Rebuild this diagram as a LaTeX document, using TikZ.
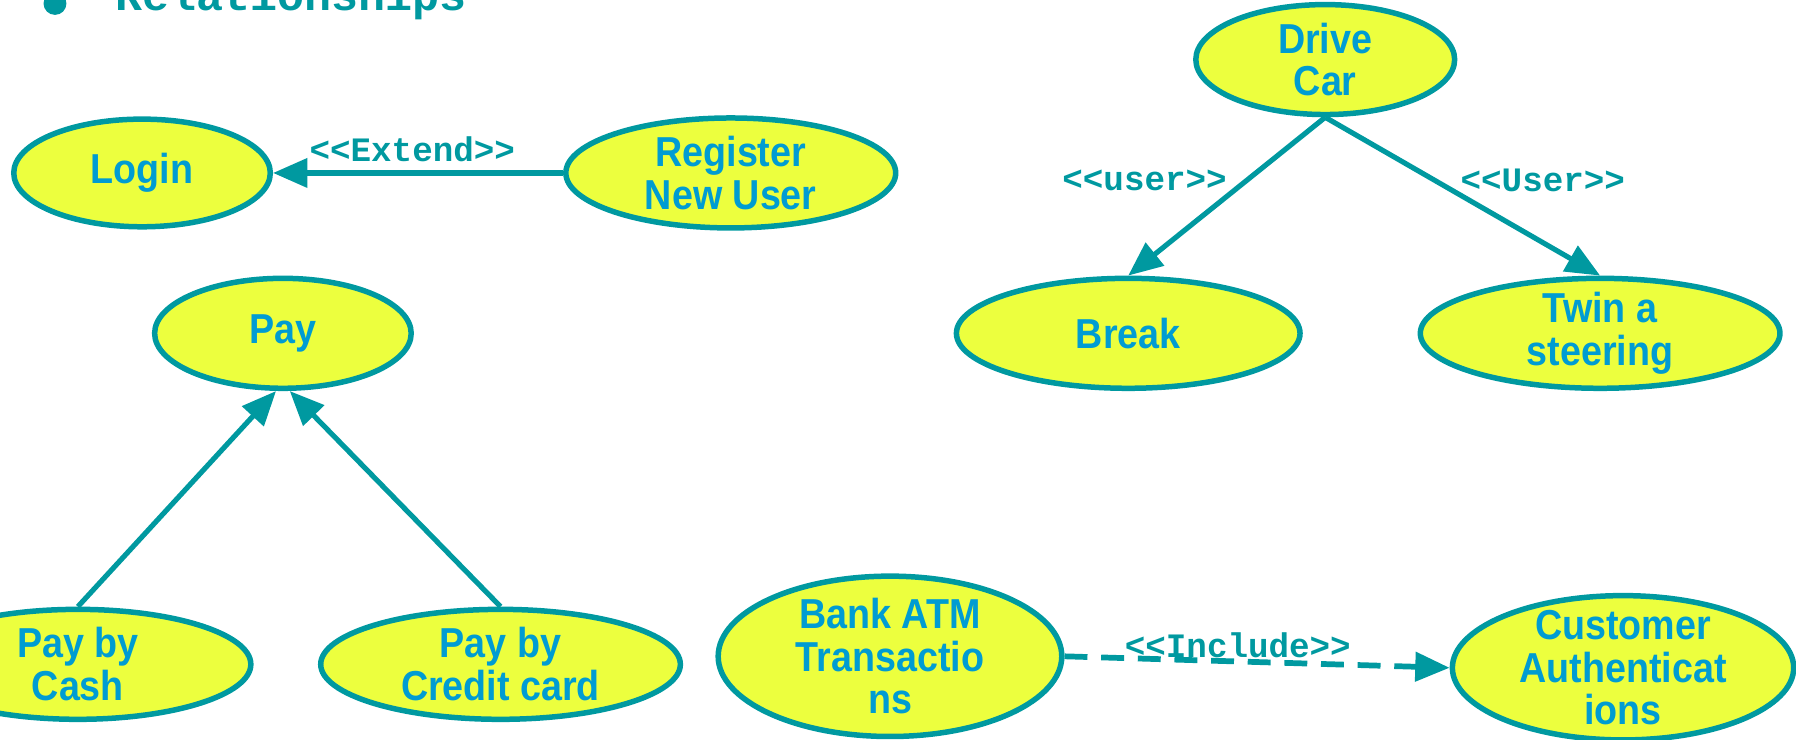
\documentclass[tikz,border=0pt]{standalone}
\usepackage{fontspec}
\setmainfont{Liberation Sans}
\setmonofont{Liberation Mono}
\newfontfamily\ucfont{Liberation Sans}[FakeStretch=0.9]
\usetikzlibrary{shapes.geometric,arrows.meta}
\definecolor{ucline}{RGB}{0,153,160}
\definecolor{ucfill}{RGB}{236,255,62}
\definecolor{uctext}{RGB}{0,156,210}
\begin{document}
\begin{tikzpicture}[x=.1mm,y=-.1mm,
	uc/.style={ellipse,draw=ucline,fill=ucfill,line width=.48mm,inner sep=0pt},
	uctxt/.style={align=center,inner sep=0pt,text=uctext,
		font=\fontsize{10.4}{10.6}\ucfont\bfseries},
	rel/.style={draw=ucline,line width=.45mm,-{Triangle[length=3mm,width=2.5mm]}},
	lbl/.style={text=ucline,inner sep=0pt,
		font=\fontsize{8.5}{9}\selectfont\ttfamily\bfseries}]
	% \uc{ten}{x,y}{rx}{ry}{chu}
	\def\uc#1#2#3#4#5{
		\node[uc,minimum width=#3*.2mm,minimum height=#4*.2mm] (#1) at (#2) {};
		\node[uctxt] (#1-t) at (#1) {#5};
	}
	\useasboundingbox (0,0) rectangle (1568,646);
	\clip (0,0) rectangle (1568,646);
	% tieu de
	\fill[ucline] (48,3) circle (10);
	\node[anchor=base west,inner sep=0pt,text=ucline,
		font=\fontsize{11.2}{12}\selectfont\ttfamily\bfseries] (tieude) at (100,9) {Relationships};
	% cac use case
	\uc{login}{124,151}{112}{47}{Login}
	\uc{reg}{638,151}{144}{48}{Register\\New User}
	\uc{drive}{1157,52}{113}{48}{Drive\\Car}
	\uc{brk}{985,291}{150}{48}{Break}
	\uc{twin}{1397,291}{157}{48}{Twin a\\steering}
	\uc{pay}{247,291}{112}{48}{Pay}
	\uc{cash}{68,580}{151}{48}{Pay by\\Cash}
	\uc{credit}{437,580}{157}{48}{Pay by\\Credit card}
	\uc{atm}{777,573}{150}{70}{Bank ATM\\Transactio\\ns}
	\uc{auth}{1417,583}{149}{63}{Customer\\Authenticat\\ions}
	% quan he
	\draw[rel] (reg) -- node[lbl,pos=.52,yshift=2.1mm] (l-ext) {<<Extend>>} (login);
	\draw[rel] (drive.south) -- node[lbl,pos=.4,anchor=east,xshift=-1.5mm] (l-user) {<<user>>} (brk.north);
	\draw[rel] (drive.south) -- node[lbl,pos=.4,anchor=west,xshift=2mm] (l-User) {<<User>>} (twin.north);
	\draw[rel] (cash.north) -- ([xshift=-.6mm]pay.south);
	\draw[rel] (credit.north) -- ([xshift=.6mm]pay.south);
	\draw[rel,line width=.5mm,dash pattern=on 2mm off 1.2mm] (atm.east)
		-- node[lbl,pos=.45,yshift=1.4mm] (l-inc) {<<Include>>} (auth.west);
\end{tikzpicture}
\end{document}
